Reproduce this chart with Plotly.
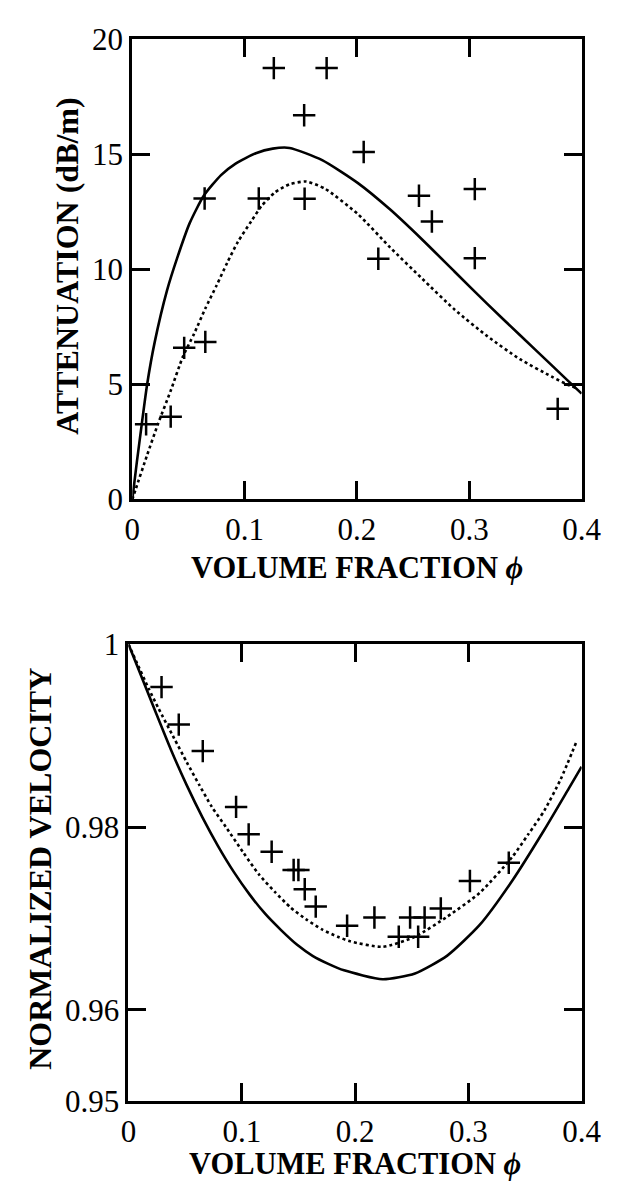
import plotly.graph_objects as go

# ---- Attenuation vs volume fraction (upper panel) ----
att_phi = [0.0123, 0.0342, 0.0462, 0.0650, 0.0644, 0.1126, 0.126, 0.153, 0.1534,
           0.173, 0.206, 0.219, 0.2552, 0.2667, 0.3049, 0.3049, 0.3787]
att_db = [3.27, 3.6, 6.59, 6.85, 13.08, 13.08, 18.75, 16.7, 13.07,
          18.75, 15.1, 10.46, 13.2, 12.08, 13.49, 10.49, 3.94]

att_solid_phi = [0, 0.004, 0.0085, 0.0132, 0.020, 0.031, 0.040, 0.051, 0.0636,
                 0.079, 0.092, 0.11, 0.125, 0.14, 0.169, 0.2009, 0.2296, 0.258,
                 0.287, 0.316, 0.345, 0.373, 0.387, 0.4]
att_solid_db = [0, 1.6, 3.3, 5.0, 6.85, 9.1, 10.5, 12.0, 13.2,
                14.1, 14.6, 15.05, 15.25, 15.28, 14.75, 13.75, 12.6, 11.3,
                9.9, 8.5, 7.15, 5.85, 5.2, 4.6]

att_dot_phi = [0, 0.0034, 0.013, 0.023, 0.034, 0.045, 0.055, 0.065, 0.075,
               0.0846, 0.094, 0.106, 0.115, 0.127, 0.14, 0.155, 0.1718, 0.2009,
               0.2296, 0.258, 0.287, 0.316, 0.345, 0.373, 0.387, 0.395]
att_dot_db = [0, 0.5, 1.9, 3.3, 4.7, 6.2, 7.2, 8.3, 9.3,
              10.3, 11.2, 12.1, 12.75, 13.35, 13.7, 13.82, 13.5, 12.4,
              10.95, 9.6, 8.25, 7.1, 6.1, 5.35, 5.0, 4.85]

# ---- Normalized velocity vs volume fraction (lower panel) ----
vel_phi = [0.0292, 0.0444, 0.0656, 0.0950, 0.1061, 0.1264, 0.1458, 0.150, 0.1556,
           0.1653, 0.193, 0.2171, 0.2386, 0.2486, 0.2557, 0.2614, 0.2757, 0.3014,
           0.3357]
vel_norm = [0.9953, 0.9912, 0.9883, 0.9822, 0.9792, 0.9773, 0.9753, 0.9753, 0.9732,
            0.9713, 0.9692, 0.9701, 0.9680, 0.9701, 0.9680, 0.9701, 0.9711, 0.9741,
            0.9761]

vel_solid_phi = [0, 0.0236, 0.0375, 0.0514, 0.0653, 0.0792, 0.0931, 0.107, 0.1208,
                 0.1347, 0.1486, 0.1625, 0.1764, 0.1903, 0.2243, 0.2529, 0.2814,
                 0.31, 0.3386, 0.3671, 0.3886, 0.4]
vel_solid = [1.0, 0.99268, 0.98845, 0.98458, 0.98106, 0.97789, 0.97507, 0.97261, 0.97049,
             0.96873, 0.96715, 0.96592, 0.96504, 0.96433, 0.96336, 0.96399, 0.96594,
             0.96929, 0.9741, 0.9797, 0.9842, 0.9866]

vel_dot_phi = [0, 0.0069, 0.018, 0.0264, 0.0403, 0.0514, 0.0625, 0.0736, 0.086,
               0.1014, 0.1153, 0.1292, 0.1431, 0.1569, 0.1708, 0.1847, 0.1957,
               0.2243, 0.2529, 0.2814, 0.31, 0.3386, 0.3529, 0.3671, 0.3814, 0.3957]
vel_dot = [1.0, 0.9981, 0.9951, 0.9930, 0.9897, 0.9871, 0.9846, 0.9822, 0.9800,
           0.9772, 0.9748, 0.9729, 0.9712, 0.9699, 0.9688, 0.9680, 0.9675,
           0.9669, 0.9680, 0.9702, 0.9728, 0.9767, 0.9792, 0.9818, 0.9852, 0.9894]

x_ticks = [0, 0.1, 0.2, 0.3, 0.4]
x_tick_text = ["0", "0.1", "0.2", "0.3", "0.4"]
att_ticks = [0, 5, 10, 15, 20]
att_tick_text = ["0", "5", "10", "15", "20"]
vel_ticks = [0.95, 0.96, 0.98, 1.0]
vel_tick_text = ["0.95", "0.96", "0.98", "1"]

FONT = "Liberation Serif"
W, H = 637, 1198

marker = dict(symbol="cross-thin", size=16, color="black",
              line=dict(width=2.5, color="black"))
solid = dict(color="black", width=2.6, shape="spline", smoothing=0.6)
dotted = dict(color="black", width=2.6, dash="3px,3px", shape="spline", smoothing=0.6)

fig = go.Figure()
fig.add_trace(go.Scatter(x=att_solid_phi, y=att_solid_db, mode="lines", line=solid,
                         xaxis="x", yaxis="y"))
fig.add_trace(go.Scatter(x=att_dot_phi, y=att_dot_db, mode="lines", line=dotted,
                         xaxis="x", yaxis="y"))
fig.add_trace(go.Scatter(x=att_phi, y=att_db, mode="markers", marker=marker,
                         xaxis="x", yaxis="y"))
fig.add_trace(go.Scatter(x=vel_solid_phi, y=vel_solid, mode="lines", line=solid,
                         xaxis="x2", yaxis="y2"))
fig.add_trace(go.Scatter(x=vel_dot_phi, y=vel_dot, mode="lines", line=dotted,
                         xaxis="x2", yaxis="y2"))
fig.add_trace(go.Scatter(x=vel_phi, y=vel_norm, mode="markers", marker=marker,
                         xaxis="x2", yaxis="y2"))

axis_style = dict(showline=True, linecolor="black", linewidth=3, mirror="ticks",
                  ticks="inside", ticklen=18, tickwidth=2.5, tickcolor="black",
                  showgrid=False, zeroline=False,
                  tickfont=dict(family=FONT, size=31, color="black"))

# pixel boxes of the two panels
top_box = dict(x0=130, x1=600, y0=23, y1=497)
bot_box = dict(x0=126, x1=600, y0=646, y1=1117)


def xdom(b):
    return [b["x0"] / W, b["x1"] / W]


def ydom(b):
    return [1 - b["y1"] / H, 1 - b["y0"] / H]


fig.update_layout(
    width=W, height=H, margin=dict(l=0, r=0, t=0, b=0),
    paper_bgcolor="white", plot_bgcolor="white", showlegend=False,
    xaxis=dict(axis_style, domain=xdom(top_box), range=[0, 0.4], anchor="y",
               tickvals=x_ticks, ticktext=x_tick_text),
    yaxis=dict(axis_style, domain=ydom(top_box), range=[0, 20], anchor="x",
               tickvals=att_ticks, ticktext=att_tick_text),
    xaxis2=dict(axis_style, domain=xdom(bot_box), range=[0, 0.4], anchor="y2",
                tickvals=x_ticks, ticktext=x_tick_text),
    yaxis2=dict(axis_style, domain=ydom(bot_box), range=[0.95, 1.0], anchor="x2",
                tickvals=vel_ticks, ticktext=vel_tick_text),
)

xtitle_font = dict(family=FONT, size=30.5, color="black")
ytitle_font = dict(family=FONT, size=32, color="black")
annotations = [
    dict(text="<b>VOLUME FRACTION <i>ϕ</i></b>", x=365 / W, y=1 - 568 / H, font=xtitle_font),
    dict(text="<b>VOLUME FRACTION <i>ϕ</i></b>", x=363 / W, y=1 - 1182 / H, font=xtitle_font),
    dict(text="<b>ATTENUATION (dB/m)</b>", x=61 / W, y=1 - 256 / H, textangle=-90,
         font=ytitle_font),
    dict(text="<b>NORMALIZED VELOCITY</b>", x=34 / W, y=1 - 878 / H, textangle=-90,
         font=ytitle_font),
]
for a in annotations:
    fig.add_annotation(xref="paper", yref="paper", showarrow=False,
                       xanchor="center", yanchor="middle", **a)

fig.write_html("out.html")
